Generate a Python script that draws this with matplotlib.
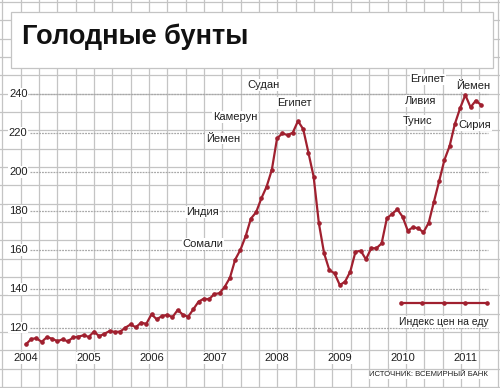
import matplotlib
matplotlib.use('Agg')
import matplotlib.pyplot as plt
from matplotlib import font_manager
from matplotlib.patches import Rectangle
import numpy as np

# world bank food price index, monthly from jan 2004
food_index = [111.5, 114.2, 114.6, 112.7, 115.2, 114.3, 113.1, 114.0, 113.0, 115.0, 115.4, 116.1,
              115.3, 118.0, 115.6, 116.9, 118.3, 117.8, 118.0, 120.0, 121.7, 120.2, 122.6, 122.0,
              126.9, 124.3, 126.0, 126.6, 125.4, 129.1, 126.7, 125.6, 129.5, 133.4, 134.9, 134.6,
              137.3, 137.7, 141.0, 145.7, 155.0, 160.0, 167.0, 176.0, 179.3, 186.4, 192.4, 201.0,
              217.2, 219.8, 218.9, 220.1, 226.1, 222.0, 209.9, 197.5, 173.6, 158.2, 149.6, 147.9,
              141.9, 143.6, 148.8, 159.0, 159.5, 155.1, 160.8, 160.8, 163.3, 176.2, 178.4, 180.8,
              177.0, 169.8, 171.6, 171.0, 169.0, 173.9, 184.7, 195.3, 206.1, 213.3, 224.6, 232.7,
              239.5, 233.2, 236.6, 234.4]
years = ['2004', '2005', '2006', '2007', '2008', '2009', '2010', '2011']
y_ticks = [120, 140, 160, 180, 200, 220, 240]
title = 'Голодные бунты'
legend_label = 'Индекс цен на еду'
source = 'ИСТОЧНИК: ВСЕМИРНЫЙ БАНК'
riots = ['Судан', 'Египет', 'Камерун', 'Йемен', 'Индия', 'Сомали',
         'Египет', 'Ливия', 'Тунис', 'Йемен', 'Сирия']

names = {f.name for f in font_manager.fontManager.ttflist}
narrow = 'Liberation Sans Narrow' if 'Liberation Sans Narrow' in names else 'Liberation Sans'

RED = '#a0202f'
PAPER = '#c4c4c4'
TXT = '#1e1e1e'

W, H = 500, 388
fig = plt.figure(figsize=(5, 3.88), dpi=100)

# graph paper background in pixel coords
bg = fig.add_axes([0, 0, 1, 1])
bg.set_xlim(0, W)
bg.set_ylim(H, 0)
bg.axis('off')
step = 18.34
for k in range(-1, 28):
    bg.axvline(20.7 + step * k, color=PAPER, lw=0.9)
for k in range(0, 22):
    bg.axhline(2 + step * k, color=PAPER, lw=0.9)
bg.add_patch(Rectangle((10.7, 12.3), 482, 56, facecolor='white', edgecolor=PAPER, lw=0.9, zorder=3))
bg.text(22, 43.5, title, fontsize=19.5, fontweight='heavy', family='Liberation Sans',
        color='#111111', va='baseline', ha='left', zorder=4)

# data axes over whole figure; mapping taken from the reference pixels
def px(x, y):
    return (x - 26) / 5.23, 240 - (y - 94) / 1.9475

ax = fig.add_axes([0, 0, 1, 1])
ax.patch.set_alpha(0)
ax.axis('off')
x0, y0 = px(0, H)
x1, y1 = px(W, 0)
ax.set_xlim(x0, x1)
ax.set_ylim(y0, y1)

gx0, _ = px(30, 0)
gx1, _ = px(488, 0)
ax.hlines(y_ticks, gx0, gx1, colors='#a8a8a8', lw=0.9, linestyles=(0, (1.5, 0.8)), zorder=1)

bbox = dict(facecolor='white', edgecolor='none', pad=0.6)
tx, _ = px(27.5, 0)
for v in y_ticks:
    ax.text(tx, v, str(v), ha='right', va='center', fontsize=8, family=narrow,
            color=TXT, bbox=bbox, zorder=2)
_, ty = px(0, 358)
for k, yr in enumerate(years):
    ax.text(12 * k, ty, yr, ha='center', va='center', fontsize=8, family=narrow,
            color=TXT, bbox=bbox, zorder=2)

months = np.arange(len(food_index))
ax.plot(months, food_index, color=RED, lw=1.6, marker='o', markersize=2.3, zorder=5)

# riot labels
spots = [(263, 85), (294.5, 103), (235, 117), (223, 138.5), (202, 212), (203, 244),
         (427.7, 79.5), (421, 101), (418, 120.5), (473, 86), (474.5, 125)]
for name, (sx, sy) in zip(riots, spots):
    lx, ly = px(sx, sy)
    ax.text(lx, ly, name, ha='center', va='center', fontsize=8, family=narrow,
            color=TXT, bbox=bbox, zorder=4)

# legend drawn by hand
lx0, ly = px(400.7, 303.3)
lx1, _ = px(486.7, 303.3)
ax.plot(np.linspace(lx0, lx1, 5), [ly] * 5, color=RED, lw=1.6, marker='o', markersize=2.3, zorder=5)
tx, ty = px(443.7, 321.7)
ax.text(tx, ty, legend_label, ha='center', va='center', fontsize=7.5, family=narrow,
        color=TXT, bbox=bbox, zorder=4)
tx, ty = px(488.3, 375)
ax.text(tx, ty, source, ha='right', va='center', fontsize=5.6, family=narrow,
        color=TXT, bbox=bbox, zorder=4)

fig.savefig('out.png', dpi=100)
